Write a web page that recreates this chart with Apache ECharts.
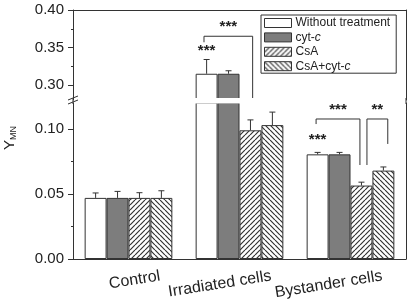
<!DOCTYPE html>
<html>
<head>
<meta charset="utf-8">
<script src="https://cdn.jsdelivr.net/npm/echarts@6/dist/echarts.min.js"></script>
<style>
html, body { margin: 0; padding: 0; background: #fff; }
#chart { width: 408px; height: 303px; }
</style>
</head>
<body>
<div id="chart"></div>
<script>
const categories = ['Control', 'Irradiated cells', 'Bystander cells'];
const seriesNames = ['Without treatment', 'cyt-c', 'CsA', 'CsA+cyt-c'];

const noTreatment = [0.047, 0.315, 0.0805];
const cytC = [0.047, 0.315, 0.0805];
const csa = [0.047, 0.099, 0.0565];
const csaCytC = [0.047, 0.103, 0.068];

const noTreatmentErr = [0.0038, 0.019, 0.0015];
const cytCErr = [0.005, 0.004, 0.0015];
const csaErr = [0.004, 0.008, 0.0026];
const csaCytCErr = [0.0055, 0.010, 0.0028];

const lowerTicks = [0, 0.05, 0.10];
const lowerMinorTicks = [0.025, 0.075];
const upperTicks = [0.30, 0.35, 0.40];
const upperMinorTicks = [0.325, 0.375];

// significance brackets (bar positions in bar units inside the group)
const bracketCat = [1, 2, 2];
const bracketFrom = [-0.12, -0.07, 2.25];
const bracketTo = [2.1, 1.93, 3.2];
const bracketTop = [0.365, 0.1077, 0.1077];
const bracketLeftEnd = [0.357, 0.1038, 0.0723];
const bracketRightEnd = [0.28, 0.0723, 0.0885];
const bracketLabelY = [0.381, 0.117, 0.117];
const bracketLabel = ['***', '***', '**'];

// stars right above single bars
const starCat = [1, 2];
const starBar = [0, 0];
const starY = [0.349, 0.0938];
const starLabel = ['***', '***'];

const LOWER = [0, 0.12];
const UPPER = [0.28, 0.40];
const CAT_GAP = 0.21;
const LINE = '#333';
const TEXT = '#222';
const FONT = 'Liberation Sans';

const values = [noTreatment, cytC, csa, csaCytC];
const errors = [noTreatmentErr, cytCErr, csaErr, csaCytCErr];

function hatch(dir) {
  const s = 5;
  const c = document.createElement('canvas');
  c.width = s; c.height = s;
  const g = c.getContext('2d');
  g.fillStyle = '#fff';
  g.fillRect(0, 0, s, s);
  g.strokeStyle = '#333';
  g.lineWidth = 1.2;
  g.beginPath();
  for (let k = -1; k <= 1; k++) {
    if (dir > 0) { g.moveTo(k * s, s); g.lineTo(k * s + s, 0); }
    else { g.moveTo(k * s, 0); g.lineTo(k * s + s, s); }
  }
  g.stroke();
  return { image: c, repeat: 'repeat' };
}

const fills = ['#ffffff', '#7d7d7d', hatch(1), hatch(-1)];

const chart = echarts.init(document.getElementById('chart'));

function barWidth(api) {
  return api.size([1, 0])[0] * (1 - CAT_GAP) / 4;
}

function renderError(params, api) {
  const cat = api.value(0), bi = api.value(1), v = api.value(2), e = api.value(3);
  const base = api.coord([cat, v]);
  const top = api.coord([cat, v + e]);
  const x = base[0] + (bi - 1.5) * barWidth(api);
  const st = { stroke: LINE, lineWidth: 1 };
  return {
    type: 'group',
    children: [
      { type: 'line', shape: { x1: x, y1: base[1], x2: x, y2: top[1] }, style: st },
      { type: 'line', shape: { x1: x - 3, y1: top[1], x2: x + 3, y2: top[1] }, style: st }
    ]
  };
}

// asterisks sit high in the em box, so push the text down a little
function starText(x, y, text) {
  return {
    type: 'text', x: x, y: y + 3,
    style: { text: text, fill: TEXT, fontSize: 15, fontWeight: 'bold', fontFamily: FONT, align: 'center', verticalAlign: 'middle' }
  };
}

function renderBracket(params, api) {
  const cat = api.value(0);
  const bw = barWidth(api);
  const top = api.coord([cat, api.value(3)]);
  const yl = api.coord([cat, api.value(4)])[1];
  const yr = api.coord([cat, api.value(5)])[1];
  const ly = api.coord([cat, api.value(6)])[1];
  const xl = top[0] + (api.value(1) - 1.5) * bw;
  const xr = top[0] + (api.value(2) - 1.5) * bw;
  return {
    type: 'group',
    children: [
      { type: 'polyline', shape: { points: [[xl, yl], [xl, top[1]], [xr, top[1]], [xr, yr]] },
        style: { fill: null, stroke: LINE, lineWidth: 1 } },
      starText((xl + xr) / 2, ly, bracketLabel[api.value(7)])
    ]
  };
}

function renderStar(params, api) {
  const cat = api.value(0);
  const p = api.coord([cat, api.value(2)]);
  const x = p[0] + (api.value(1) - 1.5) * barWidth(api);
  return starText(x, p[1], starLabel[api.value(3)]);
}

const isUpper = v => v >= UPPER[0];

const series = [];
[0, 1].forEach(gi => {
  seriesNames.forEach((name, i) => {
    series.push({
      type: 'bar', name: name, data: values[i],
      xAxisIndex: gi, yAxisIndex: gi,
      barGap: '0%', barCategoryGap: (CAT_GAP * 100) + '%',
      itemStyle: { color: fills[i], borderColor: LINE, borderWidth: 1 },
      silent: true
    });
  });
  const errData = [];
  values.forEach((arr, i) => arr.forEach((v, c) => {
    if (isUpper(v) === (gi === 1)) errData.push([c, i, v, errors[i][c]]);
  }));
  series.push({ type: 'custom', xAxisIndex: gi, yAxisIndex: gi, renderItem: renderError, data: errData, silent: true, z: 3 });
  const brData = [];
  bracketCat.forEach((c, k) => {
    if (isUpper(bracketTop[k]) === (gi === 1)) {
      brData.push([c, bracketFrom[k], bracketTo[k], bracketTop[k], bracketLeftEnd[k], bracketRightEnd[k], bracketLabelY[k], k]);
    }
  });
  series.push({ type: 'custom', xAxisIndex: gi, yAxisIndex: gi, renderItem: renderBracket, data: brData, silent: true, z: 4 });
  const stData = [];
  starCat.forEach((c, k) => {
    if (isUpper(starY[k]) === (gi === 1)) stData.push([c, starBar[k], starY[k], k]);
  });
  series.push({ type: 'custom', xAxisIndex: gi, yAxisIndex: gi, renderItem: renderStar, data: stData, silent: true, z: 4 });
});

const plotLeft = 73, plotRight = 406, plotTop = 10, upperBottom = 100, lowerTop = 103, plotBottom = 259;
const W = 408, H = 303;

function valueAxis(gi, range, pos, opts) {
  return Object.assign({
    type: 'value', gridIndex: gi, position: pos, min: range[0], max: range[1],
    splitLine: { show: false },
    axisLine: { show: false, lineStyle: { color: LINE, width: 1 } },
    axisTick: { show: false },
    axisLabel: { show: false }
  }, opts);
}

function mainTicks(ticks) {
  return {
    axisLine: { show: true, lineStyle: { color: LINE, width: 1 } },
    axisTick: { show: true, length: 5, customValues: ticks, lineStyle: { color: LINE } },
    axisLabel: {
      show: true, customValues: ticks, margin: 9, color: TEXT, fontSize: 15, fontFamily: FONT,
      formatter: v => v.toFixed(2)
    }
  };
}

function minorTicks(ticks) {
  return { axisTick: { show: true, length: 2, customValues: ticks, lineStyle: { color: LINE } } };
}

const breakLine = { stroke: LINE, lineWidth: 1 };

const option = {
  animation: false,
  backgroundColor: '#fff',
  grid: [
    { left: plotLeft, right: W - plotRight, top: lowerTop, bottom: H - plotBottom },
    { left: plotLeft, right: W - plotRight, top: plotTop, height: upperBottom - plotTop }
  ],
  xAxis: [
    {
      type: 'category', gridIndex: 0, data: categories, position: 'bottom',
      axisLine: { lineStyle: { color: LINE, width: 1 } },
      axisTick: { show: false },
      axisLabel: {
        interval: 0, rotate: 9, align: 'right', margin: 22, padding: [0, -32, 0, 0],
        color: TEXT, fontSize: 16, fontFamily: FONT
      }
    },
    {
      type: 'category', gridIndex: 1, data: categories, position: 'top',
      axisLine: { lineStyle: { color: LINE, width: 1 } },
      axisTick: { show: false }, axisLabel: { show: false }
    }
  ],
  yAxis: [
    valueAxis(0, LOWER, 'left', mainTicks(lowerTicks)),
    valueAxis(1, UPPER, 'left', mainTicks(upperTicks)),
    valueAxis(0, LOWER, 'left', minorTicks(lowerMinorTicks)),
    valueAxis(1, UPPER, 'left', minorTicks(upperMinorTicks)),
    valueAxis(0, LOWER, 'right', { axisLine: { show: true, lineStyle: { color: LINE, width: 1 } } }),
    valueAxis(1, UPPER, 'right', { axisLine: { show: true, lineStyle: { color: LINE, width: 1 } } })
  ],
  legend: {
    data: seriesNames,
    orient: 'vertical', left: 261, top: 15,
    padding: [2, 6, 1, 3],
    itemWidth: 27, itemHeight: 9, itemGap: 2.4,
    borderColor: LINE, borderWidth: 1,
    icon: 'rect',
    selectedMode: false,
    itemStyle: { borderColor: LINE, borderWidth: 1 },
    formatter: name => name.endsWith('-c') ? '{n|' + name.slice(0, -1) + '}{i|c}' : '{n|' + name + '}',
    textStyle: {
      color: TEXT, fontSize: 12, fontFamily: FONT, lineHeight: 12, padding: [0, 0, 0, -1],
      rich: {
        n: { fontSize: 12, fontFamily: FONT, color: TEXT, lineHeight: 12 },
        i: { fontSize: 12, fontFamily: FONT, color: TEXT, lineHeight: 12, fontStyle: 'italic' }
      }
    }
  },
  graphic: [
    {
      type: 'text', x: 10, y: 138, rotation: Math.PI / 2,
      style: {
        text: '{y|Y}{s|MN}', fill: TEXT, align: 'center', verticalAlign: 'middle',
        rich: {
          y: { fontSize: 15, fontFamily: FONT, fill: TEXT, lineHeight: 16 },
          s: { fontSize: 9, fontFamily: FONT, fill: TEXT, lineHeight: 9, padding: [7, 0, 0, 0] }
        }
      }
    },
    // white strip where the bars are broken
    { type: 'rect', z: 100, shape: { x: plotLeft + 1, y: upperBottom - 2, width: plotRight - plotLeft - 2, height: lowerTop - upperBottom + 2.5 },
      style: { fill: '#fff' } },
    { type: 'line', z: 101, shape: { x1: plotLeft, y1: upperBottom - 2, x2: plotLeft, y2: lowerTop + 1 }, style: breakLine },
    { type: 'line', z: 101, shape: { x1: plotRight, y1: upperBottom - 2, x2: plotRight, y2: lowerTop + 1 }, style: breakLine },
    { type: 'line', z: 101, shape: { x1: plotLeft - 5, y1: upperBottom, x2: plotLeft + 5, y2: upperBottom - 4 }, style: breakLine },
    { type: 'line', z: 101, shape: { x1: plotLeft - 5, y1: lowerTop + 1, x2: plotLeft + 5, y2: lowerTop - 3 }, style: breakLine }
  ],
  series: series
};

chart.setOption(option);
</script>
</body>
</html>
